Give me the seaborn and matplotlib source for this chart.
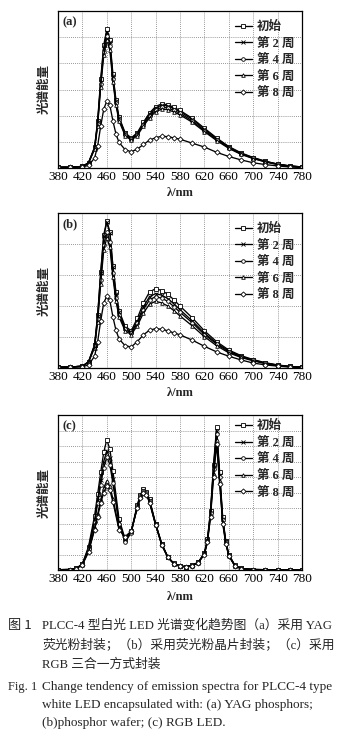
import numpy as np
import matplotlib
matplotlib.use("Agg")
import matplotlib.pyplot as plt
import seaborn as sns

# ---------------- data ----------------
series_labels = ["初始", "第 2 周", "第 4 周", "第 6 周", "第 8 周"]
markers = ["s", "x", "o", "^", "D"]

x_ticks = [380, 420, 460, 500, 540, 580, 620, 660, 700, 740, 780]

wl_ab = [380, 400, 420, 430, 440, 445, 450, 455, 460, 465, 470, 475, 480, 490, 500,
         510, 520, 530, 540, 550, 560, 570, 580, 600, 620, 640, 660, 680, 700, 720,
         740, 760, 780]

a_init = [0.03, 0.03, 0.06, 0.2, 0.8, 1.8, 3.4, 4.7, 5.3, 4.9, 3.6, 2.6, 1.95, 1.35, 1.15,
          1.35, 1.75, 2.1, 2.35, 2.45, 2.42, 2.32, 2.2, 1.9, 1.52, 1.15, 0.82, 0.58, 0.4, 0.26,
          0.15, 0.08, 0.04]
a_w2 = [0.03, 0.03, 0.06, 0.2, 0.78, 1.75, 3.3, 4.6, 5.2, 4.8, 3.5, 2.55, 1.9, 1.32, 1.12,
        1.32, 1.7, 2.05, 2.3, 2.4, 2.37, 2.27, 2.15, 1.86, 1.48, 1.12, 0.8, 0.56, 0.39, 0.25,
        0.15, 0.08, 0.04]
a_w4 = [0.03, 0.03, 0.06, 0.19, 0.75, 1.7, 3.2, 4.45, 5.05, 4.65, 3.4, 2.48, 1.85, 1.28, 1.09,
        1.28, 1.65, 1.98, 2.22, 2.32, 2.3, 2.2, 2.09, 1.8, 1.43, 1.08, 0.77, 0.54, 0.37, 0.24,
        0.14, 0.07, 0.04]
a_w6 = [0.03, 0.03, 0.06, 0.18, 0.72, 1.62, 3.1, 4.3, 4.9, 4.5, 3.3, 2.4, 1.8, 1.24, 1.06,
        1.24, 1.6, 1.92, 2.15, 2.25, 2.23, 2.14, 2.03, 1.75, 1.39, 1.05, 0.75, 0.52, 0.36, 0.23,
        0.13, 0.07, 0.03]
a_w8 = [0.02, 0.02, 0.04, 0.1, 0.38, 0.85, 1.6, 2.25, 2.56, 2.4, 1.8, 1.3, 0.98, 0.7, 0.62,
        0.72, 0.9, 1.06, 1.16, 1.21, 1.2, 1.15, 1.1, 0.95, 0.8, 0.6, 0.44, 0.31, 0.2, 0.13,
        0.08, 0.04, 0.02]

b_init = [0.03, 0.03, 0.06, 0.2, 0.75, 1.7, 3.1, 4.3, 4.75, 4.4, 3.3, 2.45, 1.85, 1.35, 1.2,
          1.6, 2.1, 2.45, 2.56, 2.5, 2.38, 2.2, 2.0, 1.62, 1.2, 0.85, 0.58, 0.4, 0.27, 0.17,
          0.1, 0.05, 0.03]
b_w2 = [0.03, 0.03, 0.06, 0.2, 0.74, 1.68, 3.05, 4.25, 4.7, 4.35, 3.25, 2.4, 1.8, 1.3, 1.16,
        1.5, 1.97, 2.3, 2.4, 2.35, 2.24, 2.07, 1.88, 1.52, 1.13, 0.8, 0.55, 0.38, 0.26, 0.16,
        0.09, 0.05, 0.03]
b_w4 = [0.03, 0.03, 0.06, 0.19, 0.7, 1.58, 2.85, 3.98, 4.4, 4.08, 3.05, 2.27, 1.72, 1.25, 1.12,
        1.44, 1.88, 2.2, 2.3, 2.25, 2.15, 1.98, 1.8, 1.46, 1.08, 0.77, 0.52, 0.36, 0.25, 0.15,
        0.09, 0.05, 0.03]
b_w6 = [0.03, 0.03, 0.06, 0.18, 0.66, 1.5, 2.72, 3.8, 4.2, 3.9, 2.92, 2.17, 1.65, 1.2, 1.08,
        1.36, 1.77, 2.06, 2.15, 2.1, 2.0, 1.85, 1.68, 1.36, 1.01, 0.72, 0.49, 0.34, 0.23, 0.14,
        0.08, 0.04, 0.03]
b_w8 = [0.02, 0.02, 0.04, 0.1, 0.38, 0.85, 1.52, 2.1, 2.32, 2.18, 1.65, 1.22, 0.94, 0.72, 0.68,
        0.85, 1.07, 1.22, 1.27, 1.25, 1.2, 1.13, 1.07, 0.9, 0.7, 0.52, 0.38, 0.26, 0.16, 0.1,
        0.06, 0.03, 0.02]

wl_c = [380, 400, 410, 420, 430, 440, 445, 450, 455, 460, 465, 470, 480, 490, 500,
        510, 515, 520, 525, 530, 540, 550, 560, 570, 580, 590, 600, 610, 620, 625,
        630, 635, 640, 645, 650, 655, 660, 670, 680, 700, 720, 740, 760, 780]

c_init = [0.02, 0.03, 0.1, 0.4, 1.5, 3.5, 4.9, 6.3, 7.6, 8.4, 7.8, 6.4, 3.3, 2.0, 2.5,
          4.2, 4.85, 5.2, 5.05, 4.55, 3.0, 1.7, 0.85, 0.42, 0.25, 0.22, 0.3, 0.5, 1.1, 2.0,
          3.8, 6.8, 9.2, 6.3, 3.4, 1.9, 1.0, 0.3, 0.1, 0.03, 0.02, 0.02, 0.02, 0.02]
c_w2 = [0.02, 0.03, 0.1, 0.38, 1.4, 3.2, 4.5, 5.8, 7.0, 7.7, 7.2, 5.9, 3.1, 1.95, 2.45,
        4.15, 4.8, 5.15, 5.0, 4.5, 2.97, 1.68, 0.84, 0.41, 0.25, 0.22, 0.3, 0.5, 1.08, 1.95,
        3.7, 6.65, 9.0, 6.15, 3.3, 1.85, 0.98, 0.29, 0.1, 0.03, 0.02, 0.02, 0.02, 0.02]
c_w4 = [0.02, 0.03, 0.1, 0.37, 1.35, 3.1, 4.3, 5.5, 6.6, 7.3, 6.8, 5.6, 2.95, 1.8, 2.4,
        4.1, 4.75, 5.1, 4.95, 4.45, 2.95, 1.66, 0.83, 0.41, 0.24, 0.21, 0.29, 0.49, 1.06, 1.9,
        3.65, 6.5, 8.8, 6.0, 3.25, 1.8, 0.96, 0.28, 0.09, 0.03, 0.02, 0.02, 0.02, 0.02]
c_w6 = [0.02, 0.03, 0.09, 0.35, 1.2, 2.7, 3.6, 4.5, 5.3, 5.75, 5.4, 4.6, 2.7, 2.1, 2.5,
        4.05, 4.7, 5.05, 4.9, 4.4, 2.92, 1.64, 0.82, 0.4, 0.24, 0.21, 0.29, 0.48, 1.03, 1.85,
        3.5, 6.2, 8.4, 5.75, 3.1, 1.75, 0.92, 0.27, 0.09, 0.03, 0.02, 0.02, 0.02, 0.02]
c_w8 = [0.02, 0.03, 0.09, 0.34, 1.15, 2.6, 3.45, 4.3, 5.0, 5.45, 5.15, 4.4, 2.6, 2.15, 2.5,
        4.0, 4.65, 5.0, 4.85, 4.35, 2.9, 1.62, 0.81, 0.4, 0.24, 0.21, 0.28, 0.47, 1.0, 1.8,
        3.4, 6.0, 8.1, 5.55, 3.0, 1.7, 0.9, 0.26, 0.09, 0.03, 0.02, 0.02, 0.02, 0.02]

panel_letters = ["(a)", "(b)", "(c)"]
y_label = "光谱能量"
x_label = "λ/nm"

caption_cn = ["PLCC-4 型白光 LED 光谱变化趋势图（a）采用 YAG",
              "荧光粉封装；（b）采用荧光粉晶片封装；（c）采用",
              "RGB 三合一方式封装"]
caption_en = ["Change tendency of emission spectra for PLCC-4 type",
              "white LED encapsulated with: (a) YAG phosphors;",
              "(b)phosphor wafer; (c) RGB LED."]

# ---------------- style ----------------
sns.set_theme(style="white")
plt.rcParams["font.family"] = ["Liberation Serif", "Noto Sans CJK SC", "DejaVu Sans"]
plt.rcParams["axes.unicode_minus"] = False

W, H = 343, 747
fig = plt.figure(figsize=(W / 100, H / 100), dpi=100)
fig.patch.set_facecolor("white")

def box(left, top, right, bottom):
    return [left / W, 1 - bottom / H, (right - left) / W, (bottom - top) / H]

panels = [
    dict(rect=box(58, 11, 302, 168), wl=wl_ab, ys=[a_init, a_w2, a_w4, a_w6, a_w8],
         ymax=6, ystep=1, leg_anchor=(1.0, 0.985), xlabel_y=193),
    dict(rect=box(58, 213, 302, 368), wl=wl_ab, ys=[b_init, b_w2, b_w4, b_w6, b_w8],
         ymax=5, ystep=1, leg_anchor=(1.0, 0.985), xlabel_y=393),
    dict(rect=box(58, 415, 302, 570), wl=wl_c, ys=[c_init, c_w2, c_w4, c_w6, c_w8],
         ymax=10, ystep=1, leg_anchor=(1.0, 1.015), xlabel_y=597),
]

for i, p in enumerate(panels):
    ax = fig.add_axes(p["rect"])
    for lab, mk, yv in zip(series_labels, markers, p["ys"]):
        sns.lineplot(x=p["wl"], y=yv, ax=ax, color="black", lw=0.95, marker=mk,
                     markersize=2.6, markerfacecolor="white", markeredgecolor="black",
                     markeredgewidth=0.6, label=lab, sort=False)
    ax.set_xlim(380, 780)
    ax.set_ylim(0, p["ymax"])
    ax.set_xticks(x_ticks)
    ax.set_xticklabels([str(t) for t in x_ticks], fontsize=9.5,
                       family=["Liberation Serif"])
    ax.set_yticks(np.arange(0, p["ymax"] + 0.001, p["ystep"]))
    ax.set_yticklabels([])
    ax.tick_params(axis="both", direction="in", length=2, width=0.6, pad=2,
                   colors="black")
    ax.grid(True, linestyle=(0, (1, 1.5)), color="#777777", linewidth=0.6)
    for s in ax.spines.values():
        s.set_color("black")
        s.set_linewidth(0.9)
    ax.set_ylabel(y_label, family=["Noto Sans CJK SC"], fontsize=9,
                  fontweight="bold", labelpad=3)
    ax.set_xlabel("")
    fig.text(180 / W, 1 - p["xlabel_y"] / H, x_label, ha="center", va="center",
             fontsize=9, fontweight="bold", family=["Liberation Serif"])
    ax.text(0.02, 0.965, panel_letters[i], transform=ax.transAxes, ha="left",
            va="top", fontsize=9, fontweight="bold", family=["Liberation Serif"])
    ax.legend(loc="upper right", bbox_to_anchor=p["leg_anchor"], frameon=False,
              handlelength=1.4, handletextpad=0.4,
              labelspacing=0.35, borderaxespad=0.2,
              prop={"family": ["Liberation Serif", "Noto Sans CJK SC"],
                    "size": 9, "weight": "bold"})

# ---------------- caption ----------------
cn_fam = ["Liberation Serif", "Noto Sans CJK SC"]
fig.text(8 / W, 1 - 625 / H, "图 1", ha="left", va="center", fontsize=9.5,
         family=["Noto Sans CJK SC"])
for line, yy in zip(caption_cn, [625, 645, 665]):
    fig.text(42 / W, 1 - yy / H, line, ha="left", va="center", fontsize=9.2,
             family=cn_fam)
fig.text(8 / W, 1 - 687 / H, "Fig. 1", ha="left", va="center", fontsize=9,
         family=["Liberation Serif"])
for line, yy in zip(caption_en, [687, 705, 723]):
    fig.text(42 / W, 1 - yy / H, line, ha="left", va="center", fontsize=9.5,
             family=["Liberation Serif"])

fig.savefig("out.png", dpi=100, facecolor="white")
